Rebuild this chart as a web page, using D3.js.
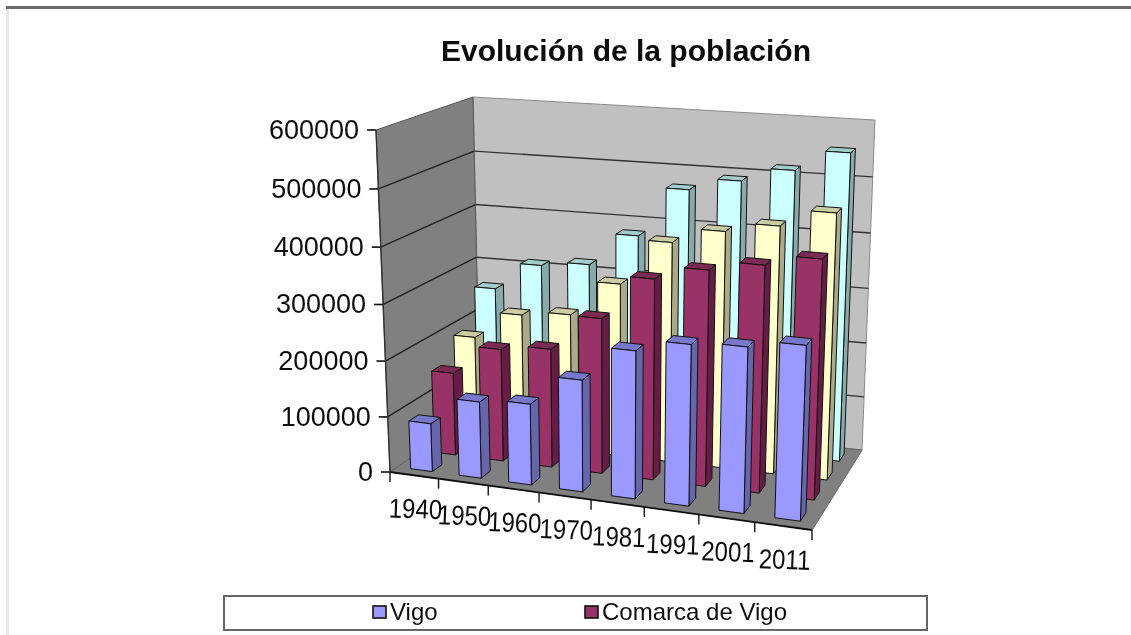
<!DOCTYPE html>
<html>
<head>
  <title>Evolución de la población</title>
  <script src="https://d3js.org/d3.v7.min.js"></script>
  <style type="text/css">
    html, body { margin: 0; background: #fff; }
    svg { display: block; font-family: "Liberation Sans", Arial, sans-serif; }
  </style>
</head>
<body>
  <div id="chart"></div>
  <script type="text/javascript">
    // values
    var years = ["1940", "1950", "1960", "1970", "1981", "1991", "2001", "2011"];
    var vigo = [87000, 137000, 144000, 197000, 258000, 279000, 285000, 298000];
    var comarca = [151000, 204000, 214000, 278000, 356000, 380000, 397000, 416000];
    var serie3 = [192000, 242000, 251000, 315000, 397000, 424000, 441000, 471000];
    var serie4 = [260000, 311000, 320000, 380000, 470000, 492000, 517000, 554000];
    var seriesValues = [vigo, comarca, serie3, serie4];
    var legendNames = ["Vigo", "Comarca de Vigo"];
    var yTicks = [0, 100000, 200000, 300000, 400000, 500000, 600000];

    var front = ["#9999ff", "#993366", "#ffffcc", "#ccffff"];
    var side = ["#6666aa", "#661f44", "#aaaa88", "#88aaaa"];
    var top_ = ["#7777cc", "#7a2952", "#cccca3", "#a3cccc"];

    // cube corners on screen, [x, y]: first letter f/b = front/back, second l/r, third b/t
    var flb = [390, 472], frb = [812, 530], blb = [480, 411], brb = [862, 450];
    var flt = [376, 130], frt = [825, 165], blt = [473, 97], brt = [875, 120];

    function warp(t, k) { return t * (1 + k) / (1 + k * t); }
    function mix(a, b, t) { return [a[0] + (b[0] - a[0]) * t, a[1] + (b[1] - a[1]) * t]; }

    // u along years, v up, w into the page, all 0..1
    function project(u, v, w) {
      var uu = warp(u, -0.09), vv = warp(v, -0.04), ww = warp(w, 0.12);
      var bottom = mix(mix(flb, frb, uu), mix(blb, brb, uu), ww);
      var upper = mix(mix(flt, frt, uu), mix(blt, brt, uu), ww);
      return mix(bottom, upper, vv);
    }

    var x = d3.scaleBand().domain(years).range([0, 1]).paddingInner(0.55).paddingOuter(0.275);
    var z = d3.scaleBand().domain(d3.range(4)).range([0, 1]).paddingInner(0.6).paddingOuter(0.3);
    var y = d3.scaleLinear().domain([0, 600000]).range([0, 1]);

    var svg = d3.select("#chart").append("svg").attr("width", 1131).attr("height", 635);
    svg.append("defs").append("filter").attr("id", "soft")
      .append("feGaussianBlur").attr("stdDeviation", 0.75);

    // page frame
    svg.append("rect").attr("x", 6).attr("y", 8).attr("width", 3).attr("height", 627).attr("fill", "#e8e8e8");
    svg.append("rect").attr("x", 6).attr("y", 6).attr("width", 1125).attr("height", 3).attr("fill", "#6a6a6a");

    var g = svg.append("g").attr("filter", "url(#soft)");

    g.append("text").attr("x", 626).attr("y", 61).attr("text-anchor", "middle")
      .attr("font-size", 30).attr("font-weight", "bold").attr("fill", "#111")
      .text("Evolución de la población");

    function poly(parent, pts, fill, stroke, sw) {
      return parent.append("polygon")
        .attr("points", pts.map(function (p) { return p[0] + "," + p[1]; }).join(" "))
        .attr("fill", fill).attr("stroke", stroke).attr("stroke-width", sw);
    }
    function seg(parent, a, b, stroke, sw) {
      parent.append("line").attr("x1", a[0]).attr("y1", a[1]).attr("x2", b[0]).attr("y2", b[1])
        .attr("stroke", stroke).attr("stroke-width", sw);
    }

    // walls and floor
    poly(g, [blb, brb, brt, blt], "#c0c0c0", "#8a8a8a", 1);
    poly(g, [flb, blb, blt, flt], "#808080", "#555", 1);
    poly(g, [flb, frb, brb, blb], "#808080", "#666", 1);

    // gridlines and value ticks
    yTicks.forEach(function (t) {
      var v = y(t);
      if (t > 0 && t < 600000) {
        seg(g, project(0, v, 0), project(0, v, 1), "#222", 1.4);
        seg(g, project(0, v, 1), project(1, v, 1), "#333", 1.4);
      }
      var p = project(0, v, 0);
      seg(g, [p[0] - 9, p[1]], p, "#111", 1.6);
      g.append("text").attr("x", p[0] - 17).attr("y", p[1] + 9).attr("text-anchor", "end")
        .attr("font-size", 27).attr("fill", "#111").text(t);
    });
    seg(g, flb, flt, "#333", 1.4);
    seg(g, flb, frb, "#111", 1.8);
    seg(g, frb, brb, "#777", 1.2);

    // category ticks and labels along the front edge
    d3.range(years.length + 1).forEach(function (i) {
      var p = project(i / years.length, 0, 0);
      seg(g, p, [p[0], p[1] + 10], "#111", 1.4);
    });
    years.forEach(function (yr) {
      var p = project(x(yr) + x.bandwidth() / 2, 0, 0);
      g.append("text").attr("text-anchor", "middle")
        .attr("transform", "translate(" + (p[0] + 1) + "," + (p[1] + 43) + ") rotate(2) scale(1,1.15)")
        .attr("font-size", 24).attr("fill", "#111").text(yr);
    });

    // bars, back row first
    d3.range(3, -1, -1).forEach(function (s) {
      years.forEach(function (yr, i) {
        var u0 = x(yr), u1 = u0 + x.bandwidth();
        var w0 = z(s), w1 = w0 + z.bandwidth();
        var v = y(seriesValues[s][i]);
        var bar = g.append("g");
        poly(bar, [project(u1, 0, w0), project(u1, 0, w1), project(u1, v, w1), project(u1, v, w0)], side[s], "#111", 1);
        poly(bar, [project(u0, v, w0), project(u1, v, w0), project(u1, v, w1), project(u0, v, w1)], top_[s], "#111", 1);
        poly(bar, [project(u0, 0, w0), project(u1, 0, w0), project(u1, v, w0), project(u0, v, w0)], front[s], "#111", 1);
      });
    });

    // legend
    g.append("rect").attr("x", 224).attr("y", 596).attr("width", 703).attr("height", 34)
      .attr("fill", "#fff").attr("stroke", "#666").attr("stroke-width", 2);
    var legendX = [373, 585];
    legendNames.forEach(function (name, i) {
      g.append("rect").attr("x", legendX[i]).attr("y", 606).attr("width", 13).attr("height", 12)
        .attr("fill", front[i]).attr("stroke", "#111").attr("stroke-width", 1.6);
      g.append("text").attr("x", legendX[i] + 17).attr("y", 620).attr("font-size", 24)
        .attr("fill", "#111").text(name);
    });
  </script>
</body>
</html>
